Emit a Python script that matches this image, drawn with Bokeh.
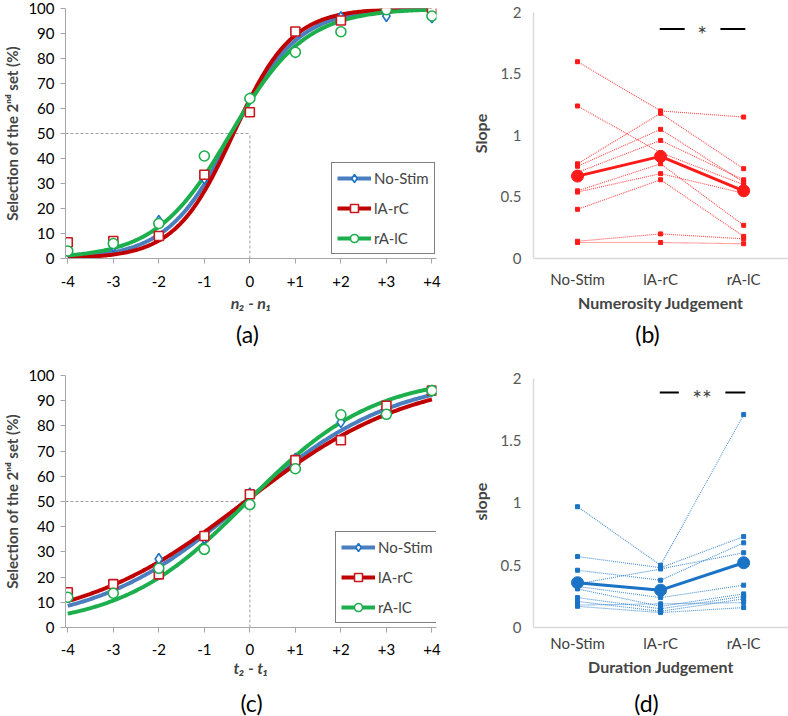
import numpy as np
from bokeh.plotting import figure
from bokeh.layouts import column, row
from bokeh.models import Range1d, FixedTicker, Legend, LegendItem, Label
from bokeh.core.properties import value
from bokeh.embed import file_html
from bokeh.resources import INLINE

FONT = "Lato"

# ---------------- data ----------------
conditions = ["No-Stim", "lA-rC", "rA-lC"]
diff_levels = [-4, -3, -2, -1, 0, 1, 2, 3, 4]
diff_tick_labels = ["-4", "-3", "-2", "-1", "0", "+1", "+2", "+3", "+4"]

# (a) numerosity: % selection of 2nd set
num_nostim = [3, 5, 15, 32, 64, 82.5, 96.5, 97, 96.5]
num_larc = [6.5, 7, 9, 33.5, 58.5, 90.8, 95.2, 100, 100]
num_ralc = [3, 6, 14, 41, 64, 82.5, 90.7, 99.5, 97]
num_fit_pse = [-0.38, -0.36, -0.42]      # fitted curve parameters
num_fit_scale = [0.72, 0.64, 0.82]

# (c) duration: % selection of 2nd set
dur_nostim = [12.3, 14.5, 27.2, 35.4, 53.2, 67, 81.5, 85.5, 94]
dur_larc = [14, 17.2, 21.1, 36.3, 52.9, 66.4, 74.3, 88, 94]
dur_ralc = [12, 13.6, 23.5, 31, 48.8, 63, 84.4, 84.6, 94]
dur_fit_pse = [-0.1, -0.1, -0.05]
dur_fit_scale = [1.65, 1.82, 1.39]

# (b) numerosity slopes per subject
num_slope_nostim = [1.60, 1.24, 0.77, 0.75, 0.70, 0.55, 0.54, 0.40, 0.14, 0.13]
num_slope_larc = [1.20, 0.86, 1.18, 1.05, 0.96, 0.77, 0.69, 0.64, 0.20, 0.13]
num_slope_ralc = [1.15, 0.60, 0.73, 0.62, 0.64, 0.27, 0.53, 0.18, 0.16, 0.12]
num_slope_mean = [0.67, 0.83, 0.55]

# (d) duration slopes per subject
dur_slope_nostim = [0.97, 0.57, 0.46, 0.35, 0.33, 0.31, 0.24, 0.21, 0.18, 0.17]
dur_slope_larc = [0.50, 0.48, 0.38, 0.47, 0.24, 0.17, 0.15, 0.13, 0.19, 0.12]
dur_slope_ralc = [1.71, 0.73, 0.68, 0.60, 0.34, 0.27, 0.25, 0.23, 0.20, 0.16]
dur_slope_mean = [0.36, 0.30, 0.52]

slope_ticks = [0, 0.5, 1, 1.5, 2]
slope_tick_labels = ["0", "0.5", "1", "1.5", "2"]

panel_tags = ["(a)", "(b)", "(c)", "(d)"]

# ---------------- styles ----------------
CURVE_COLORS = ["#4A7EBF", "#C00000", "#1DAF4E"]
MARK_COLORS = ["#1F74C6", "#C8171D", "#1DAF4E"]
MARKERS = ["diamond", "square", "circle"]
MARK_SIZES = [11, 9, 10]
RED = "#FF1A1A"
BLUE = "#1A73C4"


def logistic(x, pse, scale):
    return 100.0 / (1.0 + np.exp(-(x - pse) / scale))


def tag_strip(width, height, tags, centers):
    p = figure(width=width, height=height, x_range=Range1d(0, width), y_range=Range1d(0, height),
               output_backend="svg", toolbar_location=None, x_axis_location=None, y_axis_location=None,
               min_border=0)
    p.outline_line_color = None
    p.grid.visible = False
    p.text(x=centers, y=[height / 2] * len(tags), text=tags, text_font=value(FONT),
           text_font_size="23px", text_align="center", text_baseline="middle", text_color="black")
    return p


def psych_panel(height, top, bottom, series, pses, scales, xlabel, legend_loc, tick_standoff, label_standoff):
    p = figure(width=450, height=height, x_range=Range1d(-4.05, 4.1), y_range=Range1d(0, 100),
               output_backend="svg", toolbar_location=None,
               min_border_left=64, min_border_right=14, min_border_top=top, min_border_bottom=bottom)
    p.grid.visible = False
    p.outline_line_color = None

    for ax in (p.xaxis[0], p.yaxis[0]):
        ax.axis_line_color = "#A6A6A6"
        ax.major_tick_line_color = "#A6A6A6"
        ax.minor_tick_line_color = None
        ax.major_tick_in = 0
        ax.major_tick_out = 5
        ax.major_label_text_font = FONT
        ax.major_label_text_font_size = "15px"
        ax.major_label_text_color = "black"
        ax.axis_label_text_font = FONT
        ax.axis_label_text_font_size = "15px"
        ax.axis_label_text_font_style = "bold"
    p.xaxis.ticker = FixedTicker(ticks=diff_levels)
    p.xaxis.major_label_overrides = {k: v for k, v in zip(diff_levels, diff_tick_labels)}
    p.xaxis.major_label_standoff = tick_standoff
    p.xaxis.axis_label = xlabel
    p.xaxis.axis_label_text_font_size = "16px"
    p.xaxis.axis_label_text_font_style = "bold italic"
    p.xaxis.axis_label_standoff = label_standoff
    p.yaxis.ticker = FixedTicker(ticks=list(range(0, 101, 10)))
    p.yaxis.major_label_standoff = 6
    p.yaxis.axis_label = "Selection of the 2\u207f\u1d48 set (%)"
    p.yaxis.axis_label_standoff = 4

    # PSE guide lines
    p.line([p.x_range.start, 0], [50, 50], line_color="#A0A0A0", line_dash="3 2", line_width=1)
    p.line([0, 0], [0, 50], line_color="#A0A0A0", line_dash="3 2", line_width=1)

    xs = np.linspace(-4, 4, 241)
    curves = []
    for i in range(len(series)):
        curves.append(p.line(xs, logistic(xs, pses[i], scales[i]), line_color=CURVE_COLORS[i], line_width=4))
    marks = []
    for i, ys in enumerate(series):
        marks.append(p.scatter(diff_levels, ys, marker=MARKERS[i], size=MARK_SIZES[i],
                               line_color=MARK_COLORS[i], line_width=1.6, fill_color="white"))
    legend = Legend(items=[LegendItem(label=conditions[i], renderers=[curves[i], marks[i]]) for i in range(3)],
                    location=legend_loc, border_line_color="black", border_line_width=1,
                    label_text_font=FONT, label_text_font_size="15px", glyph_width=34, glyph_height=20,
                    spacing=10, padding=5, margin=0, label_standoff=3, background_fill_alpha=1)
    p.add_layout(legend, "center")
    return p


def slope_panel(height, top, bottom, y_end, s_nostim, s_larc, s_ralc, means, color, xlabel, ylabel,
                sig_text, sig_y, sig_gaps, tick_standoff):
    p = figure(width=338, height=height, x_range=Range1d(-0.03, 3.04), y_range=Range1d(0, y_end),
               output_backend="svg", toolbar_location=None,
               min_border_left=83, min_border_right=0, min_border_top=top, min_border_bottom=bottom)
    p.grid.visible = False
    p.outline_line_color = None
    xpos = [i + 0.5 for i in range(len(conditions))]

    for ax in (p.xaxis[0], p.yaxis[0]):
        ax.axis_line_color = "#D9D9D9"
        ax.axis_line_width = 1.5
        ax.major_tick_line_color = None
        ax.major_tick_out = 0
        ax.major_tick_in = 0
        ax.minor_tick_line_color = None
        ax.major_label_text_font = FONT
        ax.major_label_text_font_size = "15px"
        ax.major_label_text_color = "#404040"
        ax.axis_label_text_font = FONT
        ax.axis_label_text_font_size = "16px"
        ax.axis_label_text_font_style = "bold"
    p.yaxis[0].bounds = (0, 2)
    p.xaxis.ticker = FixedTicker(ticks=xpos)
    p.xaxis.major_label_overrides = {k: v for k, v in zip(xpos, conditions)}
    p.xaxis.major_label_standoff = tick_standoff
    p.xaxis.axis_label = xlabel
    p.xaxis.axis_label_standoff = 2
    p.yaxis.ticker = FixedTicker(ticks=slope_ticks)
    p.yaxis.major_label_overrides = {k: v for k, v in zip(slope_ticks, slope_tick_labels)}
    p.yaxis.major_label_text_color = "#595959"
    p.yaxis.major_label_standoff = 12
    p.yaxis.axis_label = ylabel
    p.yaxis.axis_label_standoff = 8

    subj = [[a, b, c] for a, b, c in zip(s_nostim, s_larc, s_ralc)]
    p.multi_line([xpos] * len(subj), subj, line_color=color, line_width=1.1, line_dash="1 1", line_alpha=0.8)
    allx = [x for _ in subj for x in xpos]
    ally = [v for s in subj for v in s]
    p.scatter(allx, ally, marker="square", size=4, color=color)
    p.line(xpos, means, line_color=color, line_width=3)
    p.scatter(xpos, means, marker="circle", size=12, color=color)

    # significance bar between lA-rC and rA-lC
    mid = (xpos[1] + xpos[2]) / 2
    p.segment(x0=[xpos[1] - 0.01, mid + sig_gaps[1]], y0=[sig_y, sig_y],
              x1=[mid - sig_gaps[0], xpos[2] + 0.02], y1=[sig_y, sig_y], line_color="black", line_width=2)
    p.add_layout(Label(x=mid, y=sig_y, text=sig_text, text_font=FONT, text_font_size="23px",
                       text_align="center", text_baseline="middle", y_offset=-5))
    return p


pa = psych_panel(318, 8, 60, [num_nostim, num_larc, num_ralc], num_fit_pse, num_fit_scale,
                 "n\u2082 - n\u2081", (266, 4), 12, 3)
pb = slope_panel(318, 8, 60, 2.0325, num_slope_nostim, num_slope_larc, num_slope_ralc, num_slope_mean, RED,
                 "Numerosity Judgement", "Slope", "*", 1.865, (0.21, 0.22), 11)
pc = psych_panel(340, 27, 61, [dur_nostim, dur_larc, dur_ralc], dur_fit_pse, dur_fit_scale,
                 "t\u2082 - t\u2081", (270, 4), 11, 0)
pd = slope_panel(340, 27, 61, 2.024, dur_slope_nostim, dur_slope_larc, dur_slope_ralc, dur_slope_mean, BLUE,
                 "Duration Judgement", "slope", "**", 1.887, (0.28, 0.28), 6)

tag_ab = tag_strip(788, 30, panel_tags[0:2], [247, 647])
tag_cd = tag_strip(788, 28, panel_tags[2:4], [251, 646])

layout = column(row(pa, pb), tag_ab, row(pc, pd), tag_cd)
open("out.html", "w").write(file_html(layout, INLINE))
